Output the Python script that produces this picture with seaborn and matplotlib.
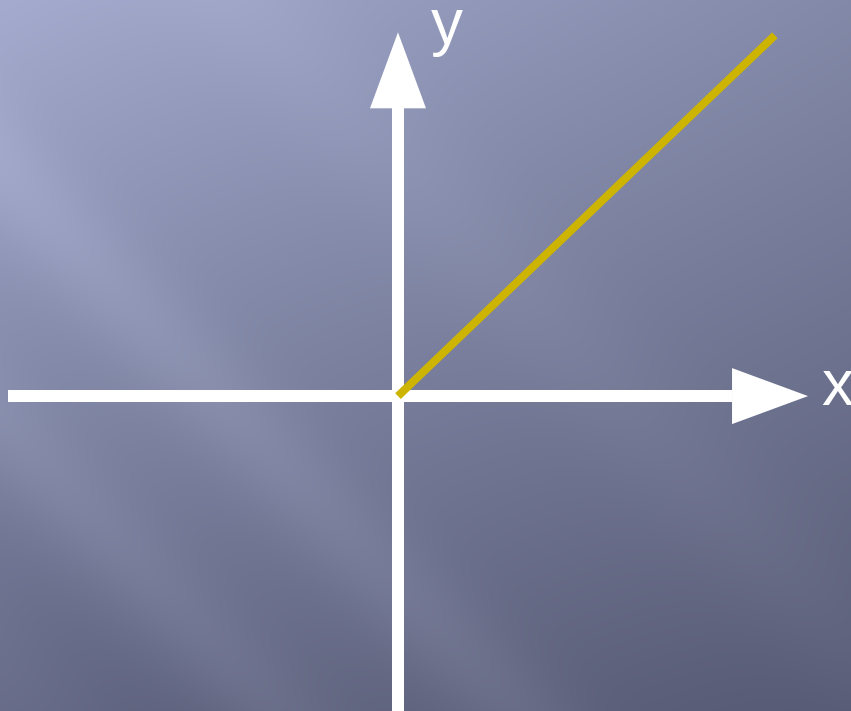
import numpy as np
import matplotlib
matplotlib.use("Agg")
import matplotlib.pyplot as plt
import seaborn as sns
import pandas as pd

# ---- data ----
line_x = [0.0, 5.0]
line_y = [0.0, 4.8]
x_axis_range = [-5.17, 5.44]   # x axis: left end, arrow tip
y_axis_range = [-4.19, 4.84]   # y axis: bottom end, arrow tip
axis_labels = ["x", "y"]

sns.set_theme(style="white")
plt.rcParams['font.family'] = ['Liberation Sans', 'DejaVu Sans']

W, H, DPI = 851, 711, 100
fig = plt.figure(figsize=(W / DPI, H / DPI), dpi=DPI)
ax = fig.add_axes([0, 0, 1, 1])

xlim = (-5.28, 6.01)
ylim = (-4.19, 5.27)

# ---- background gradient ----
yy, xx = np.mgrid[0:H, 0:W].astype(float)
xn, yn = xx / W, yy / H
t = 0.42 * xn + 0.77 * yn - 0.19 * xn * yn
light = np.array([164, 171, 206]) / 255
dark = np.array([86, 90, 116]) / 255
img = light[None, None, :] * (1 - t[..., None]) + dark[None, None, :] * t[..., None]
d = yy - 1.05 * xx
streak = (0.045 * np.exp(-((d - 170) / 70) ** 2)
          + 0.03 * np.exp(-((d - 420) / 60) ** 2)
          - 0.02 * np.exp(-((d - 560) / 80) ** 2)
          + 0.02 * np.exp(-((d + 250) / 90) ** 2))
img = np.clip(img + streak[..., None], 0, 1)
ax.imshow(img, extent=(xlim[0], xlim[1], ylim[0], ylim[1]), origin="upper",
          aspect="auto", zorder=0, interpolation="bilinear")

# ---- axes arrows ----
px_x = (xlim[1] - xlim[0]) / W
px_y = (ylim[1] - ylim[0]) / H
shaft = 12  # px
head_len, head_half = 76, 28
ax.plot([x_axis_range[0], x_axis_range[1] - head_len * px_x], [0, 0],
        color="white", lw=shaft * 72 / DPI, solid_capstyle="butt", zorder=2)
ax.fill([x_axis_range[1] - head_len * px_x, x_axis_range[1], x_axis_range[1] - head_len * px_x],
        [head_half * px_y, 0, -head_half * px_y], color="white", lw=0, zorder=2)
ax.plot([0, 0], [y_axis_range[0] - 0.1, y_axis_range[1] - head_len * px_y],
        color="white", lw=shaft * 72 / DPI, solid_capstyle="butt", zorder=2)
ax.fill([-head_half * px_x, 0, head_half * px_x],
        [y_axis_range[1] - head_len * px_y, y_axis_range[1], y_axis_range[1] - head_len * px_y],
        color="white", lw=0, zorder=2)

# ---- the line ----
df = pd.DataFrame({"x": line_x, "y": line_y})
sns.lineplot(data=df, x="x", y="y", ax=ax, color="#CCB400", lw=8 * 72 / DPI,
             zorder=3, sort=False, solid_capstyle="butt")

# ---- labels ----
ax.text(5.62, -0.12, axis_labels[0], color="white", fontsize=46,
        ha="left", va="baseline", zorder=4)
ax.text(0.44, 4.68, axis_labels[1], color="white", fontsize=46,
        ha="left", va="baseline", zorder=4)

ax.set_xlim(*xlim)
ax.set_ylim(*ylim)
ax.set_axis_off()
fig.savefig("out.png", dpi=DPI)
